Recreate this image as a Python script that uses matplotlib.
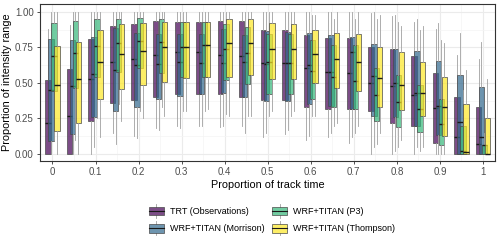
import matplotlib
matplotlib.use("Agg")
import matplotlib.pyplot as plt
import numpy as np
from matplotlib.legend_handler import HandlerBase
from matplotlib.patches import Rectangle
from matplotlib.lines import Line2D

plt.rcParams['font.family'] = ['Liberation Sans', 'DejaVu Sans']

x_positions = [0, 0.05, 0.1, 0.15, 0.2, 0.25, 0.3, 0.35, 0.4, 0.45, 0.5,
               0.55, 0.6, 0.65, 0.7, 0.75, 0.8, 0.85, 0.9, 0.95, 1.0]
x_ticks = [0, 0.1, 0.2, 0.3, 0.4, 0.5, 0.6, 0.7, 0.8, 0.9, 1.0]
x_ticklabels = ["0", "0.1", "0.2", "0.3", "0.4", "0.5", "0.6", "0.7", "0.8", "0.9", "1"]
y_ticks = [0.0, 0.25, 0.5, 0.75, 1.0]
y_ticklabels = ["0.00", "0.25", "0.50", "0.75", "1.00"]

series_names = ["TRT (Observations)", "WRF+TITAN (Morrison)",
                "WRF+TITAN (P3)", "WRF+TITAN (Thompson)"]
series_colors = ["#440154", "#31688E", "#35B779", "#FDE725"]

# TRT (Observations)
trt_lo  = [0, 0, 0, 0.15, 0.13, 0.18, 0.2, 0.2, 0.19, 0.2, 0.12, 0.14, 0.1, 0.12, 0.08, 0.0, 0.0, 0.0, 0.0, 0.0, 0.0]
trt_q1  = [0, 0, 0.23, 0.36, 0.38, 0.40, 0.42, 0.42, 0.42, 0.40, 0.38, 0.38, 0.33, 0.32, 0.32, 0.30, 0.22, 0.20, 0.08, 0.0, 0.0]
trt_med = [0.22, 0.27, 0.53, 0.645, 0.666, 0.694, 0.717, 0.717, 0.694, 0.69, 0.638, 0.638, 0.603, 0.575, 0.572, 0.502, 0.479, 0.414, 0.322, 0.117, 0.072]
trt_q3  = [0.52, 0.60, 0.81, 0.90, 0.918, 0.935, 0.93, 0.93, 0.937, 0.937, 0.871, 0.871, 0.836, 0.82, 0.82, 0.752, 0.736, 0.69, 0.572, 0.40, 0.334]
trt_hi  = [0.88, 0.906, 1, 1, 1, 1, 1, 1, 1, 1, 1, 1, 1, 1, 1, 0.99, 0.97, 0.93, 0.88, 0.70, 0.67]

# WRF+TITAN (Morrison)
mor_lo  = [0, 0, 0.05, 0.07, 0.11, 0.17, 0.18, 0.2, 0.2, 0.15, 0.15, 0.17, 0.13, 0.15, 0.12, 0.05, 0.02, 0.05, 0.0, 0.0, 0.0]
mor_q1  = [0.09, 0.14, 0.26, 0.30, 0.33, 0.39, 0.41, 0.42, 0.43, 0.40, 0.37, 0.37, 0.35, 0.34, 0.32, 0.27, 0.26, 0.20, 0.135, 0.0, 0.0]
mor_med = [0.45, 0.48, 0.563, 0.59, 0.624, 0.633, 0.645, 0.64, 0.638, 0.647, 0.633, 0.638, 0.624, 0.575, 0.717, 0.55, 0.50, 0.43, 0.34, 0.224, 0.117]
mor_q3  = [0.806, 0.80, 0.825, 0.89, 0.853, 0.848, 0.848, 0.848, 0.883, 0.836, 0.867, 0.86, 0.855, 0.84, 0.825, 0.776, 0.738, 0.722, 0.654, 0.554, 0.47]
mor_hi  = [1, 1, 1, 1, 1, 1, 1, 1, 1, 1, 1, 1, 1, 1, 1, 1, 0.98, 0.95, 0.92, 0.85, 0.79]

# WRF+TITAN (P3)
p3_lo  = [0.1, 0.1, 0.25, 0.35, 0.3, 0.33, 0.3, 0.3, 0.28, 0.27, 0.27, 0.27, 0.27, 0.2, 0.15, 0.07, 0.05, 0.02, 0.0, 0.0, 0.0]
p3_q1  = [0.44, 0.463, 0.54, 0.58, 0.603, 0.57, 0.544, 0.54, 0.52, 0.49, 0.42, 0.42, 0.386, 0.334, 0.315, 0.229, 0.19, 0.154, 0.06, 0.0, 0.0]
p3_med = [0.69, 0.71, 0.759, 0.78, 0.792, 0.79, 0.755, 0.766, 0.736, 0.708, 0.65, 0.638, 0.584, 0.544, 0.512, 0.416, 0.367, 0.315, 0.213, 0.02, 0.06]
p3_q3  = [0.923, 0.937, 0.953, 0.949, 0.96, 0.95, 0.93, 0.93, 0.913, 0.895, 0.848, 0.848, 0.80, 0.766, 0.766, 0.603, 0.554, 0.486, 0.385, 0.20, 0.065]
p3_hi  = [1, 1, 1, 1, 1, 1, 1, 1, 1, 1, 1, 1, 0.98, 0.95, 0.95, 0.95, 0.93, 0.87, 0.8, 0.45, 0.15]

# WRF+TITAN (Thompson)
tho_lo  = [0, 0, 0.12, 0.23, 0.25, 0.27, 0.3, 0.32, 0.27, 0.27, 0.3, 0.3, 0.27, 0.22, 0.2, 0.15, 0.1, 0.05, 0.0, 0.0, 0.0]
tho_q1  = [0.16, 0.217, 0.39, 0.456, 0.484, 0.51, 0.537, 0.54, 0.54, 0.554, 0.526, 0.528, 0.498, 0.467, 0.444, 0.334, 0.311, 0.264, 0.124, 0.0, 0.0]
tho_med = [0.486, 0.526, 0.645, 0.703, 0.727, 0.75, 0.752, 0.766, 0.78, 0.778, 0.74, 0.736, 0.703, 0.67, 0.65, 0.533, 0.484, 0.43, 0.334, 0.015, 0.003]
tho_q3  = [0.76, 0.787, 0.876, 0.918, 0.925, 0.932, 0.93, 0.93, 0.949, 0.949, 0.923, 0.918, 0.876, 0.853, 0.843, 0.75, 0.717, 0.647, 0.54, 0.35, 0.25]
tho_hi  = [1, 1, 1, 1, 1, 1, 1, 1, 1, 1, 1, 1, 0.98, 1, 1, 0.98, 0.9, 0.9, 0.78, 0.59, 0.53]

series_data = [
    (trt_lo, trt_q1, trt_med, trt_q3, trt_hi),
    (mor_lo, mor_q1, mor_med, mor_q3, mor_hi),
    (p3_lo, p3_q1, p3_med, p3_q3, p3_hi),
    (tho_lo, tho_q1, tho_med, tho_q3, tho_hi),
]

ALPHA = 0.7
WHISK_C = "#a0a0a0"
EDGE_C = "#4a4a4a"
MED_C = "#1a1a1a"

fig = plt.figure(figsize=(5.0, 2.42), dpi=100)
ax = fig.add_axes([0.08, 0.335, 0.91, 0.6485])

spacing = 0.0068
box_w = 0.0125
n = len(series_data)
for i, (lo, q1, med, q3, hi) in enumerate(series_data):
    offset = (i - (n - 1) / 2) * spacing
    stats = [dict(whislo=a, q1=b, med=c, q3=d, whishi=e, fliers=[])
             for a, b, c, d, e in zip(lo, q1, med, q3, hi)]
    pos = [p + offset for p in x_positions]
    ax.bxp(stats, positions=pos, widths=box_w, patch_artist=True,
           showfliers=False, showcaps=False, manage_ticks=False,
           boxprops=dict(facecolor=matplotlib.colors.to_rgba(series_colors[i], ALPHA),
                         edgecolor=EDGE_C, linewidth=0.5),
           whiskerprops=dict(color=WHISK_C, linewidth=0.6),
           medianprops=dict(color=MED_C, linewidth=1.0),
           zorder=3 + i)

ax.set_xlim(-0.029, 1.028)
ax.set_ylim(-0.049, 1.056)
ax.set_xticks(x_ticks)
ax.set_xticklabels(x_ticklabels)
ax.set_yticks(y_ticks)
ax.set_yticklabels(y_ticklabels)
ax.set_xticks([0.05 + 0.1 * k for k in range(10)], minor=True)
ax.set_yticks([0.125, 0.375, 0.625, 0.875], minor=True)
ax.grid(which='major', color='#ebebeb', linewidth=0.8, zorder=0)
ax.grid(which='minor', color='#f4f4f4', linewidth=0.5, zorder=0)
ax.set_axisbelow(True)
ax.tick_params(which='major', length=2.5, width=0.6, color='#333333', labelsize=7,
               labelcolor='#4d4d4d', pad=2)
ax.tick_params(which='minor', length=0)
for s in ax.spines.values():
    s.set_color('#333333')
    s.set_linewidth(0.8)

ax.set_xlabel("Proportion of track time", fontsize=7.8, labelpad=2)
ax.set_ylabel("Proportion of intensity range", fontsize=7.8)
ax.yaxis.set_label_coords(-0.062, 0.5)


class BoxHandler(HandlerBase):
    def create_artists(self, legend, orig_handle, xdescent, ydescent,
                       width, height, fontsize, trans):
        color = orig_handle.get_facecolor()
        x0, y0 = -xdescent, -ydescent
        rect = Rectangle((x0 + 0.05 * width, y0), 0.9 * width, 1.0 * height,
                         facecolor=color, edgecolor=EDGE_C, linewidth=0.5, transform=trans)
        wt = Line2D([x0 + width / 2, x0 + width / 2], [y0 + height, y0 + 1.3 * height],
                    color=WHISK_C, linewidth=0.6, transform=trans)
        wb = Line2D([x0 + width / 2, x0 + width / 2], [y0 - 0.3 * height, y0],
                    color=WHISK_C, linewidth=0.6, transform=trans)
        md = Line2D([x0 + 0.05 * width, x0 + 0.95 * width], [y0 + height / 2, y0 + height / 2],
                    color=MED_C, linewidth=0.8, transform=trans)
        return [wt, wb, rect, md]


handles = [Rectangle((0, 0), 1, 1, facecolor=matplotlib.colors.to_rgba(c, ALPHA))
           for c in series_colors]
fig.legend(handles, series_names, handler_map={Rectangle: BoxHandler()},
           loc='center', bbox_to_anchor=(0.543, 0.091), ncol=2, frameon=False,
           fontsize=6.5, handlelength=1.9, handleheight=1.1, labelspacing=0.9,
           columnspacing=0.7, handletextpad=0.55, borderpad=0.2)

fig.savefig("out.png", dpi=100)
